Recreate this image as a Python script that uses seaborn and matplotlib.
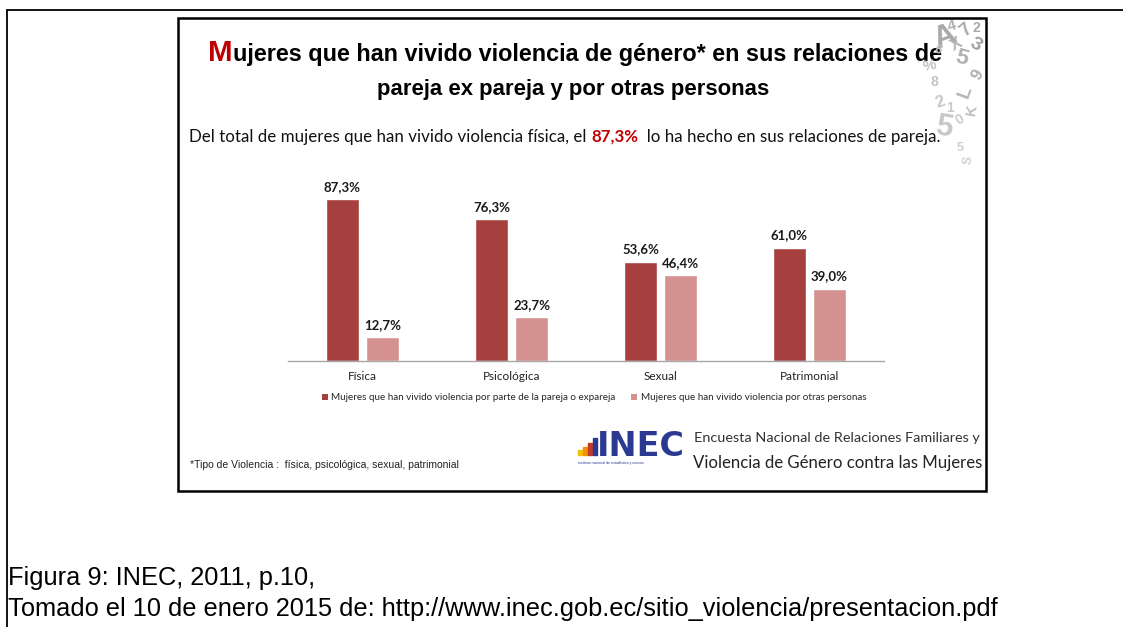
import matplotlib
matplotlib.use("Agg")
import matplotlib.pyplot as plt
from matplotlib.patches import Rectangle
from matplotlib.lines import Line2D
import pandas as pd
import seaborn as sns

# ---- data -------------------------------------------------------------
categorias = ["Física", "Psicológica", "Sexual", "Patrimonial"]
pareja = [87.3, 76.3, 53.6, 61.0]
otras = [12.7, 23.7, 46.4, 39.0]
series = [
    "Mujeres que han vivido violencia por parte de la pareja o expareja",
    "Mujeres que han vivido violencia por otras personas",
]
colores = ["#A5403F", "#D4918F"]

# ---- figure -----------------------------------------------------------
sns.set_theme(style="white")
plt.rcParams["font.family"] = ["Liberation Sans", "DejaVu Sans"]

W, H = 1123, 627
fig = plt.figure(figsize=(W / 100, H / 100), dpi=100)
fig.patch.set_facecolor("white")


def fx(x):
    return x / W


def fy(y):
    return 1 - y / H


# page rules and slide frame
fig.add_artist(Line2D([fx(7), 1], [fy(10), fy(10)], color="black", lw=1.3))
fig.add_artist(Line2D([fx(7), fx(7)], [fy(10), 0], color="black", lw=1.3))
marco = Rectangle((fx(178), fy(491)), fx(986) - fx(178), fy(18) - fy(491),
                  fill=False, edgecolor="black", lw=1.8,
                  transform=fig.transFigure, zorder=5)
fig.add_artist(marco)

# ---- bars -------------------------------------------------------------
ax = fig.add_axes([fx(288), fy(361), fx(884) - fx(288), 185.6 / H])
df = pd.DataFrame({
    "tipo": categorias * 2,
    "valor": pareja + otras,
    "serie": [series[0]] * len(categorias) + [series[1]] * len(categorias),
})
sns.barplot(data=df, x="tipo", y="valor", hue="serie", palette=colores,
            width=0.537, gap=0.17, saturation=1, legend=False, ax=ax)
ax.set_xlim(-0.5, len(categorias) - 0.5)
ax.set_ylim(0, 100)
ax.set_xlabel("")
ax.set_ylabel("")
ax.set_yticks([])
for s in ["left", "right", "top"]:
    ax.spines[s].set_visible(False)
ax.spines["bottom"].set_color("#A6A6A6")
ax.spines["bottom"].set_linewidth(1.0)
ax.tick_params(axis="x", length=0, pad=7, labelsize=8.5, colors="#222222")
for t in ax.get_xticklabels():
    t.set_family("Lato")
ax.set_facecolor("none")

for cont in ax.containers:
    for bar in cont:
        v = bar.get_height()
        ax.annotate(f"{v:.1f}".replace(".", ",") + "%",
                    (bar.get_x() + bar.get_width() / 2, v),
                    xytext=(0, 4.5), textcoords="offset points",
                    ha="center", va="bottom", fontsize=9.5,
                    fontweight="bold", family="Lato", color="#1a1a1a")

handles = [Rectangle((0, 0), 1, 1, facecolor=c, edgecolor="none") for c in colores]
fig.legend(handles, series, loc="center", bbox_to_anchor=(fx(594), fy(398)),
           ncol=2, frameon=False, handlelength=0.6, handleheight=0.6,
           handletextpad=0.35, columnspacing=1.6,
           prop={"family": "Lato", "size": 7.1})

# ---- text lines made of several coloured pieces -------------------------
fig.canvas.draw()
renderer = fig.canvas.get_renderer()


def linea(partes, x, yb, ancho=None, centro=True):
    textos = [fig.text(0, fy(yb), s, va="baseline", ha="left", **kw)
              for s, kw in partes]
    fig.canvas.draw()
    anchos = [t.get_window_extent(renderer).width for t in textos]
    total = sum(anchos)
    if ancho:
        k = ancho / total
        for t in textos:
            t.set_fontsize(t.get_fontsize() * k)
        fig.canvas.draw()
        anchos = [t.get_window_extent(renderer).width for t in textos]
        total = sum(anchos)
    x0 = x - total / 2 if centro else x
    for t, w in zip(textos, anchos):
        t.set_x(fx(x0))
        x0 += w
    return textos


titulo = dict(fontsize=15, fontweight="bold", color="black")
linea([("M", dict(fontsize=19, fontweight="bold", color="#C00000")),
       ("ujeres que han vivido violencia de género* en sus relaciones de", titulo)],
      575, 61, ancho=736)
linea([("pareja ex pareja y por otras personas", titulo)], 573, 95, ancho=394)

sub = dict(fontsize=11, family="Lato", color="#111111")
linea([("Del total de mujeres que han vivido violencia física, el ", sub),
       ("87,3%", dict(sub, fontweight="bold", color="#C00000")),
       ("  lo ha hecho en sus relaciones de pareja.", sub)],
      565, 142, ancho=744)

fig.text(fx(190), fy(468), "*Tipo de Violencia :  física, psicológica, sexual, patrimonial",
         fontsize=7.5, color="#222222", va="baseline")

# ---- INEC signature ---------------------------------------------------
logo_bars = [(578, 5, "#F2C200"), (583, 8, "#F39200"), (588, 12, "#C0392B"),
             (593, 17, "#2B3990")]
for x0, h, c in logo_bars:
    fig.add_artist(Rectangle((fx(x0), fy(455)), 4 / W, h / H, color=c,
                             transform=fig.transFigure))
fig.text(fx(597), fy(456), "INEC", fontsize=24, fontweight="bold",
         color="#2B3990", va="baseline", family="DejaVu Sans")
fig.text(fx(578), fy(464), "instituto nacional de estadística y censos",
         fontsize=2.6, color="#2B3990", va="baseline")
fig.text(fx(694), fy(442), "Encuesta Nacional de Relaciones Familiares y",
         fontsize=10.4, color="#333333", va="baseline", family="Lato")
fig.text(fx(693), fy(468), "Violencia de Género contra las Mujeres",
         fontsize=12.1, color="#222222", va="baseline", family="Lato")

# decorative grey figures in the slide corner, kept inside the frame
deco = [("A", 945, 38, 22, 20, "#A8A8A8"), ("5", 962, 58, 16, -15, "#B0B0B0"),
        ("%", 930, 66, 11, 10, "#C4C4C4"), ("8", 934, 82, 10, 0, "#C4C4C4"),
        ("2", 940, 102, 12, 20, "#C8C8C8"), ("1", 950, 108, 10, 0, "#C8C8C8"),
        ("5", 944, 128, 22, -10, "#C8C8C8"), ("0", 960, 120, 10, 30, "#CCCCCC"),
        ("L", 966, 92, 14, 70, "#B8B8B8"), ("5", 960, 148, 9, 0, "#D0D0D0"),
        ("S", 968, 160, 9, 80, "#D0D0D0"), ("7", 966, 30, 13, 40, "#A8A8A8"),
        ("3", 975, 45, 14, -30, "#A0A0A0"), ("4", 952, 26, 11, 15, "#B0B0B0"),
        ("9", 978, 75, 12, 60, "#B0B0B0"), ("6", 938, 50, 9, -20, "#BDBDBD"),
        ("K", 972, 110, 11, 80, "#C0C0C0"), ("2", 976, 28, 10, 0, "#A8A8A8"),
        ("X", 956, 44, 12, 30, "#B4B4B4")]
recorte = Rectangle((fx(179), fy(490)), fx(985) - fx(179), fy(19) - fy(490),
                    transform=fig.transFigure)
for s, x, y, size, rot, c in deco:
    t = fig.text(fx(x), fy(y), s, fontsize=size, color=c, rotation=rot,
                 ha="center", va="center", fontweight="bold")
    t.set_clip_path(recorte)

# ---- caption below the slide -----------------------------------------
cap = dict(fontsize=14.5, color="black")
fuente = linea([("Tomado el 10 de enero 2015 de: http://www.inec.gob.ec/sitio_violencia/presentacion.pdf",
                 cap)], 8, 616, ancho=990, centro=False)
fig.text(fx(8), fy(585), "Figura 9: INEC, 2011, p.10,", va="baseline",
         color="black", fontsize=fuente[0].get_fontsize())

fig.savefig("out.png", dpi=100, facecolor="white")
